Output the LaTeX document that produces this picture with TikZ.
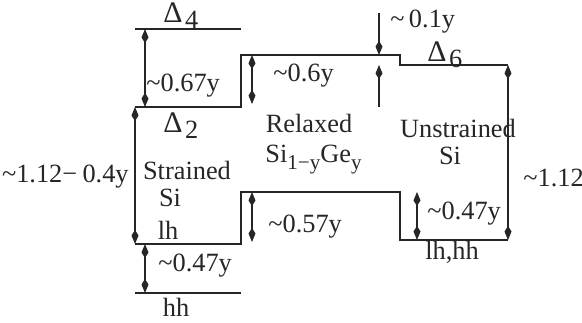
\documentclass[tikz,border=0pt]{standalone}
\usepackage{fontspec}
\setmainfont{Liberation Serif}
\usetikzlibrary{arrows.meta}
\newcommand{\lowsub}[1]{\raisebox{-0.55ex}{\fontsize{12pt}{12pt}\selectfont#1}}
\newcommand{\valley}[1]{{\fontsize{17pt}{17pt}\selectfont Δ}\kern1.5pt\raisebox{-0.45ex}{#1}}
\newcommand{\approxto}{\textasciitilde}

\begin{document}
\begin{tikzpicture}[x=0.02cm,y=-0.02cm,font=\fontsize{15pt}{17pt}\selectfont,
  band/.style={draw=black!85,line width=0.75pt},
  dim/.style={{Kite[length=2.8mm,width=1.4mm,inset=1.1mm]}-{Kite[length=2.8mm,width=1.4mm,inset=1.1mm]},
              draw=black!85,line width=0.6pt},
  dimto/.style={-{Kite[length=2.8mm,width=1.4mm,inset=1.1mm]},draw=black!85,line width=0.6pt},
  lbl/.style={inner sep=0pt,text=black!85}]
\useasboundingbox (0,0) rectangle (582,323);
\def\xa{135}\def\xb{241}\def\xc{400}\def\xd{508}
% band edges
\coordinate (d4l) at (\xa,29);  \coordinate (d4r) at (\xb,29);
\coordinate (c1) at (\xa,107);  \coordinate (c2) at (\xb,107);
\coordinate (c3) at (\xb,55);   \coordinate (c4) at (\xc,55);
\coordinate (c5) at (\xc,65);   \coordinate (c6) at (\xd,65);
\coordinate (v1) at (\xa,244);  \coordinate (v2) at (\xb,244);
\coordinate (v3) at (\xb,192);  \coordinate (v4) at (\xc,192);
\coordinate (v5) at (\xc,240);  \coordinate (v6) at (\xd,240);
\coordinate (h1) at (\xa,293);  \coordinate (h2) at (\xb,293);
\draw[band] (d4l) -- (d4r);
\draw[band] (c1) -- (c2) -- (c3) -- (c4) -- (c5) -- (c6);
\draw[band] (v1) -- (v2) -- (v3) -- (v4) -- (v5) -- (v6);
\draw[band] (h1) -- (h2);
% offsets
\coordinate (a67t) at (145,29);  \coordinate (a67b) at (145,107);
\coordinate (a6t) at (252,55);   \coordinate (a6b) at (252,104);
\coordinate (a57t) at (252,192); \coordinate (a57b) at (252,242);
\coordinate (a47t) at (145,244); \coordinate (a47b) at (145,293);
\coordinate (b47t) at (417,192); \coordinate (b47b) at (417,240);
\coordinate (a1t) at (379,13);   \coordinate (a1u) at (379,55);
\coordinate (a1b) at (379,107);  \coordinate (a1d) at (379,65);
\draw[dim] (c1) -- (v1);
\draw[dim] (c6) -- (v6);
\draw[dim] (a67t) -- (a67b);
\draw[dim] (a6t) -- (a6b);
\draw[dim] (a57t) -- (a57b);
\draw[dim] (a47t) -- (a47b);
\draw[dim] (b47t) -- (b47b);
\draw[dimto] (a1t) -- (a1u);
\draw[dimto] (a1b) -- (a1d);
% labels
\node[lbl,anchor=base west] (lD4) at (163,23) {\valley{4}};
\node[lbl,anchor=base west] (lD2) at (163,133) {\valley{2}};
\node[lbl,anchor=base west] (lD6) at (427,62) {\valley{6}};
\node[lbl,anchor=base west] (l67) at (146,92) {\approxto0.67y};
\node[lbl,anchor=base west] (l6) at (273,82) {\approxto0.6y};
\node[lbl,anchor=base west] (l1) at (390,28) {\approxto\,0.1y};
\node[lbl,anchor=base west] (l57) at (268,233) {\approxto0.57y};
\node[lbl,anchor=base west] (l47a) at (158,272) {\approxto0.47y};
\node[lbl,anchor=base west] (l47b) at (427,220) {\approxto0.47y};
\node[lbl,anchor=base east] (lgap) at (129,183) {\approxto1.12−\kern3pt0.4y};
\node[lbl,anchor=base west] (lgapu) at (523,187) {\approxto1.12};
\node[lbl,anchor=base] (lrel) at (309,133) {Relaxed};
\node[lbl,anchor=base west] (lsige) at (265,163) {Si\lowsub{1−y}Ge\lowsub{y}};
\node[lbl,anchor=base] (lun) at (458,138) {Unstrained};
\node[lbl,anchor=base] (lunsi) at (450,165) {Si};
\node[lbl,anchor=base] (lstr) at (187,180) {Strained};
\node[lbl,anchor=base] (lstrsi) at (170,207) {Si};
\node[lbl,anchor=base] (llh) at (168,240) {lh};
\node[lbl,anchor=base] (lhh) at (176,317) {hh};
\node[lbl,anchor=base] (llhhh) at (452,260) {lh,hh};
\end{tikzpicture}
\end{document}
